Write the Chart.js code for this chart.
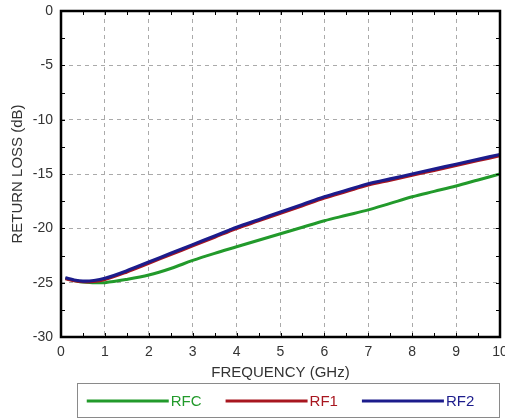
<!DOCTYPE html>
<html><head><meta charset="utf-8">
<script src="https://cdn.jsdelivr.net/npm/chart.js@4/dist/chart.umd.min.js"></script>
<style>html,body{margin:0;padding:0;background:#fff}#wrap{width:505px;height:419px}</style>
</head><body><div id="wrap"><canvas id="c" width="505" height="419"></canvas></div>
<script>
const freq = [0.1,0.3,0.5,0.75,1,1.5,2,2.5,3,3.5,4,4.5,5,5.5,6,6.5,7,7.5,8,8.5,9,9.5,10];
const rfc  = [-24.6,-24.8,-24.95,-25.0,-25.0,-24.7,-24.3,-23.7,-22.95,-22.3,-21.7,-21.1,-20.5,-19.9,-19.3,-18.8,-18.3,-17.7,-17.1,-16.6,-16.1,-15.55,-15.0];
const rf1  = [-24.65,-24.82,-24.92,-24.9,-24.72,-24.02,-23.22,-22.42,-21.62,-20.82,-20.02,-19.32,-18.62,-17.92,-17.22,-16.62,-16.02,-15.57,-15.12,-14.67,-14.22,-13.77,-13.32];
const rf2  = [-24.55,-24.75,-24.85,-24.8,-24.6,-23.9,-23.1,-22.3,-21.5,-20.7,-19.9,-19.2,-18.5,-17.8,-17.1,-16.5,-15.9,-15.45,-15.0,-14.55,-14.1,-13.65,-13.2];
const seriesNames = ['RFC','RF1','RF2'];
const seriesColors = ['#229a2b','#a8161f','#1c1c8c'];
const xTitle = 'FREQUENCY (GHz)';
const yTitle = 'RETURN LOSS (dB)';

const pts = arr => freq.map((f,i)=>({x:f,y:arr[i]}));
const font = 'Liberation Sans, Arial, sans-serif';

const framePlugin = {
  id:'frame',
  afterDraw(chart){
    const {ctx, chartArea:a, scales} = chart;
    ctx.save();
    ctx.strokeStyle='#000';
    ctx.lineWidth=1;
    ctx.beginPath();
    scales.x.ticks.forEach(t=>{
      const px = Math.round(scales.x.getPixelForValue(t.value))+0.5;
      ctx.moveTo(px,a.bottom); ctx.lineTo(px,a.bottom-4);
      ctx.moveTo(px,a.top); ctx.lineTo(px,a.top+4);
    });
    scales.y.ticks.forEach(t=>{
      const py = Math.round(scales.y.getPixelForValue(t.value))+0.5;
      ctx.moveTo(a.left,py); ctx.lineTo(a.left+4,py);
      ctx.moveTo(a.right,py); ctx.lineTo(a.right-4,py);
    });
    ctx.stroke();
    ctx.lineWidth=2.5;
    ctx.strokeRect(a.left,a.top,a.right-a.left,a.bottom-a.top);
    // legend
    const top = a.bottom + 46, bot = 417;
    ctx.strokeStyle='#8a8a8a';
    ctx.lineWidth=1;
    ctx.strokeRect(Math.round(a.left+16)+0.5, top+0.5, Math.round(a.right-a.left-16)-1, bot-top);
    ctx.font = '15px ' + font;
    ctx.textBaseline='middle';
    const lineLen = 82, gap = 24;
    const ds = chart.data.datasets;
    const widths = ds.map(d=>lineLen + 2 + ctx.measureText(d.label).width);
    const total = widths.reduce((s,w)=>s+w,0) + gap*(ds.length-1);
    let x = (a.left+a.right)/2 - total/2;
    const cy = (top+bot)/2 + 1;
    ds.forEach((d,i)=>{
      ctx.strokeStyle=d.borderColor; ctx.lineWidth=3;
      ctx.beginPath(); ctx.moveTo(x,cy); ctx.lineTo(x+lineLen,cy); ctx.stroke();
      ctx.fillStyle=d.borderColor;
      ctx.fillText(d.label, x+lineLen+2, cy+1);
      x += widths[i] + gap;
    });
    ctx.restore();
  }
};

new Chart(document.getElementById('c'),{
  type:'line',
  data:{datasets:[
    {label:seriesNames[0],data:pts(rfc),borderColor:seriesColors[0],borderWidth:3,pointRadius:0,tension:0.35,order:3},
    {label:seriesNames[1],data:pts(rf1),borderColor:seriesColors[1],borderWidth:3,pointRadius:0,tension:0.35,order:2},
    {label:seriesNames[2],data:pts(rf2),borderColor:seriesColors[2],borderWidth:3.2,pointRadius:0,tension:0.35,order:1}
  ]},
  options:{
    responsive:false,animation:false,
    layout:{padding:{top:11,right:5,left:9,bottom:36}},
    plugins:{tooltip:{enabled:false},legend:{display:false}},
    scales:{
      x:{type:'linear',min:0,max:10,
        ticks:{stepSize:0.5,autoSkip:false,maxRotation:0,color:'#333',font:{family:font,size:14},padding:7,
          callback:v=>Number.isInteger(v)?String(v):''},
        grid:{drawTicks:false,color:c=>Number.isInteger(c.tick.value)&&c.tick.value>0&&c.tick.value<10?'#aaa':'transparent',lineWidth:1},
        border:{display:false,dash:[4,4]},
        title:{display:true,text:xTitle,color:'#333',font:{family:font,size:15},padding:{top:0,bottom:1}},
        afterFit(s){s.paddingRight=0;s.paddingLeft=0;s.height=46;}
      },
      y:{type:'linear',min:-30,max:0,
        ticks:{stepSize:2.5,autoSkip:false,color:'#333',font:{family:font,size:14},padding:8,
          callback:v=>v%5===0?String(v):''},
        grid:{drawTicks:false,color:c=>c.tick.value%5===0&&c.tick.value>-30&&c.tick.value<0?'#aaa':'transparent',lineWidth:1},
        border:{display:false,dash:[4,4]},
        title:{display:true,text:yTitle,color:'#333',font:{family:font,size:15},padding:{top:0,bottom:0}},
        afterFit(s){s.width=52;s.paddingTop=0;s.paddingBottom=0;}
      }
    }
  },
  plugins:[framePlugin]
});
</script></body></html>
